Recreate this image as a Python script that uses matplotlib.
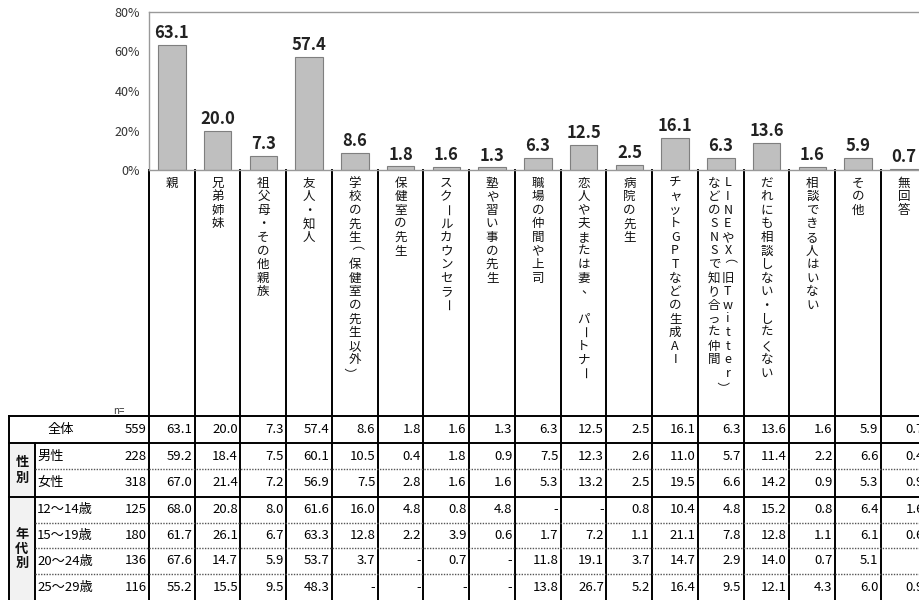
import numpy as np
import matplotlib.pyplot as plt

plt.rcParams['font.family'] = ['Noto Sans CJK JP', 'DejaVu Sans']

# data
categories = ['親', '兄弟姉妹', '祖父母・その他親族', '友人・知人',
              '学校の先生（保健室の先生以外）', '保健室の先生', 'スクールカウンセラー',
              '塾や習い事の先生', '職場の仲間や上司', '恋人や夫または妻、　パートナー',
              '病院の先生', 'チャットGPTなどの生成AI',
              'LINEやX（旧Twitter）\nなどのSNSで知り合った仲間',
              'だれにも相談しない・したくない', '相談できる人はいない', 'その他', '無回答']

total = [63.1, 20.0, 7.3, 57.4, 8.6, 1.8, 1.6, 1.3, 6.3, 12.5, 2.5, 16.1, 6.3, 13.6, 1.6, 5.9, 0.7]
male = [59.2, 18.4, 7.5, 60.1, 10.5, 0.4, 1.8, 0.9, 7.5, 12.3, 2.6, 11.0, 5.7, 11.4, 2.2, 6.6, 0.4]
female = [67.0, 21.4, 7.2, 56.9, 7.5, 2.8, 1.6, 1.6, 5.3, 13.2, 2.5, 19.5, 6.6, 14.2, 0.9, 5.3, 0.9]
age12 = [68.0, 20.8, 8.0, 61.6, 16.0, 4.8, 0.8, 4.8, None, None, 0.8, 10.4, 4.8, 15.2, 0.8, 6.4, 1.6]
age15 = [61.7, 26.1, 6.7, 63.3, 12.8, 2.2, 3.9, 0.6, 1.7, 7.2, 1.1, 21.1, 7.8, 12.8, 1.1, 6.1, 0.6]
age20 = [67.6, 14.7, 5.9, 53.7, 3.7, None, 0.7, None, 11.8, 19.1, 3.7, 14.7, 2.9, 14.0, 0.7, 5.1, None]
age25 = [55.2, 15.5, 9.5, 48.3, None, None, None, None, 13.8, 26.7, 5.2, 16.4, 9.5, 12.1, 4.3, 6.0, 0.9]

row_labels = ['全体', '男性', '女性', '12～14歳', '15～19歳', '20～24歳', '25～29歳']
n_values = [559, 228, 318, 125, 180, 136, 116]
table_values = [total, male, female, age12, age15, age20, age25]
groups = [('性別', 1, 2), ('年代別', 3, 6)]
yticks = [0, 20, 40, 60, 80]

# layout in pixels
W, H = 920, 600
X0, CW = 149, 45.75
Y_TOP, Y_BOT = 12, 170
row_edges = [416, 443, 469, 496.5, 522.5, 548, 574, 600.5]
dotted_after = [1, 3, 4, 5]  # rows followed by a dotted line

fig = plt.figure(figsize=(W / 100, H / 100), dpi=100)

# overlay for labels and table (pixel coordinates)
ov = fig.add_axes([0, 0, 1, 1])
ov.set_xlim(0, W)
ov.set_ylim(H, 0)
ov.axis('off')

# bar chart
ax = fig.add_axes([X0 / W, 1 - Y_BOT / H, len(categories) * CW / W, (Y_BOT - Y_TOP) / H])
ax.patch.set_alpha(0)
x = np.arange(len(categories))
ax.bar(x, total, width=0.6, color='#bfbfbf', edgecolor='#7f7f7f', linewidth=0.8, zorder=2)
for i, v in enumerate(total):
    ax.text(i, v + 3.5, f'{v:.1f}', ha='center', va='baseline', fontsize=12,
            fontweight='bold', color='#222222')
ax.set_xlim(-0.5, len(categories) - 0.5)
ax.set_ylim(0, 80)
ax.set_yticks(yticks)
ax.set_yticklabels([f'{t}%' for t in yticks])
ax.set_xticks([])
ax.tick_params(axis='y', length=0, pad=6.5, labelsize=9, labelcolor='#333333')
for s in ['left', 'top', 'bottom']:
    ax.spines[s].set_color('#999999')
    ax.spines[s].set_linewidth(1)
ax.spines['right'].set_visible(False)


def colx(i):
    return X0 + (i + 0.5) * CW


# vertical category labels (one char per line, columns right to left)
pitch = 13.6
for i, lab in enumerate(categories):
    cols = lab.split('\n')
    for k, col in enumerate(cols):
        dx = ((len(cols) - 1) / 2 - k) * 14
        for j, ch in enumerate(col):
            rot, ox, oy = 0, 0, 0
            if ch == 'ー':
                rot = -90
            elif ch in '（）':
                rot, ox = -90, -7
            elif ch == '、':
                ox, oy = 4, -2
            ov.text(colx(i) + dx + ox, 183 + j * pitch + oy, ch, rotation=rot,
                    ha='center', va='center', fontsize=9, color='#111111')

# table grid
lw = 1.4
for k in range(len(categories) + 1):
    xx = X0 + k * CW
    ov.plot([xx, xx], [Y_BOT, H], color='black', lw=lw)
ov.plot([9, 9], [row_edges[0], H], color='black', lw=lw)
ov.plot([35, 35], [row_edges[1], H], color='black', lw=lw)
ov.plot([9, W], [row_edges[0]] * 2, color='black', lw=lw)
ov.plot([9, W], [row_edges[1]] * 2, color='black', lw=lw)
ov.plot([9, W], [row_edges[3]] * 2, color='black', lw=lw)
for r in dotted_after:
    ov.plot([35, W], [row_edges[r + 1]] * 2, color='#555555', lw=1, linestyle=(0, (1, 1)))

# group column shading and labels
for name, r0, r1 in groups:
    y0, y1 = row_edges[r0], row_edges[r1 + 1]
    ov.fill_between([9.7, 34.3], y0 + 0.7, y1 - 0.7, color='#f2f2f2', zorder=0)
    gp = 16 if len(name) == 2 else 14.5
    yc = (y0 + y1) / 2
    for j, ch in enumerate(name):
        ov.text(22, yc + (j - (len(name) - 1) / 2) * gp, ch, ha='center', va='center',
                fontsize=9.5, fontweight='bold', color='#111111')

ov.text(113, 411, 'n=', fontsize=7, ha='left', va='center', color='#333333')

# table rows
for r, (lab, n, vals) in enumerate(zip(row_labels, n_values, table_values)):
    yc = (row_edges[r] + row_edges[r + 1]) / 2
    if r == 0:
        ov.text(61, yc, lab, ha='center', va='center', fontsize=9.5)
    else:
        ov.text(37, yc, lab, ha='left', va='center', fontsize=9.5)
    ov.text(X0 - 2.5, yc, str(n), ha='right', va='center', fontsize=9.5)
    for i, v in enumerate(vals):
        s = '-' if v is None else f'{v:.1f}'
        ov.text(X0 + (i + 1) * CW - 2.5, yc, s, ha='right', va='center', fontsize=9.5)

fig.savefig('out.png', dpi=100)
